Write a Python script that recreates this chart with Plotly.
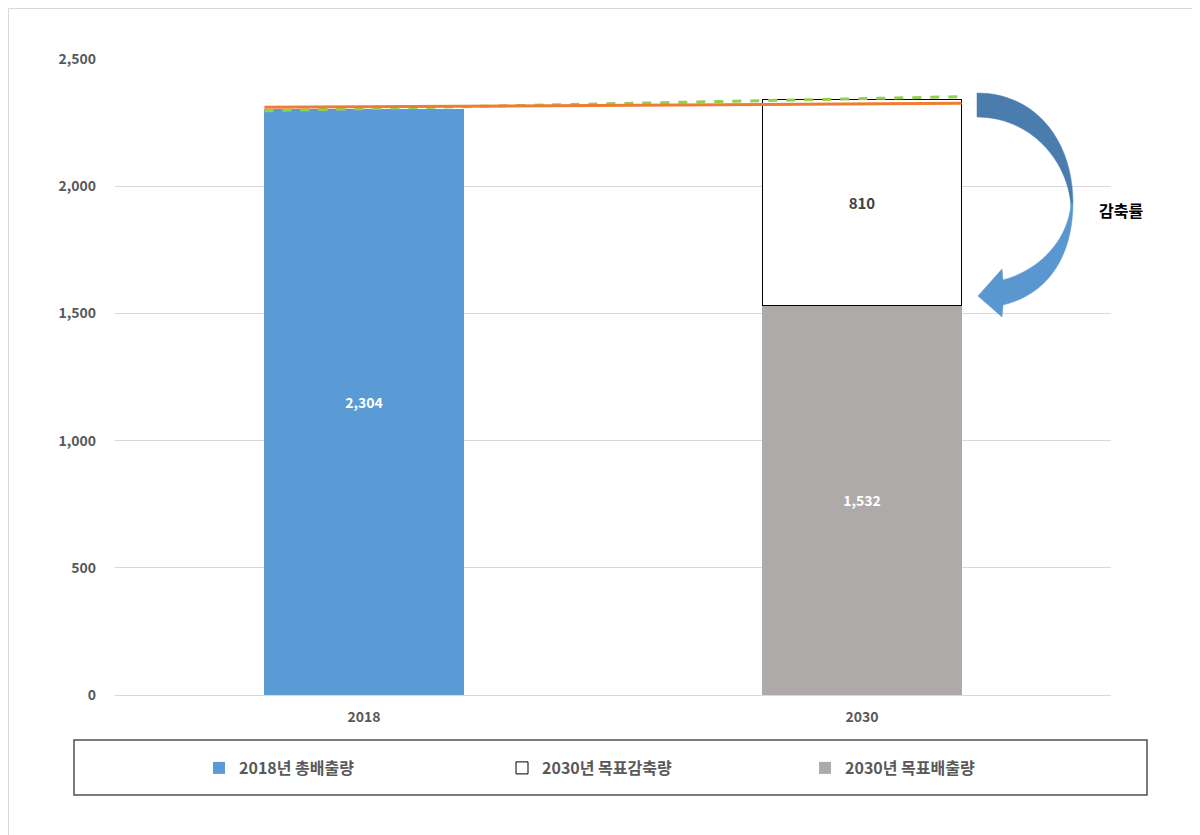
import plotly.graph_objects as go

# ---- data ----
categories = ["2018", "2030"]
cat_pos = [0, 1]
total_2018 = [2304]
target_emission_2030 = [1532]
target_reduction_2030 = [810]
trend_x = [-0.2, 1.2]
orange_line = [2310, 2326]
green_line = [2297, 2352]
y_ticks = [0, 500, 1000, 1500, 2000, 2500]
y_ticktext = ["0", "500", "1,000", "1,500", "2,000", "2,500"]

FONT = "Noto Sans CJK KR"
W, H = 1200, 835
OFF = 8  # page body margin
# plot area in page pixels: x 115..1111, y 59..695
PL, PR, PT, PB = 115, 1111, 59, 695
ML = PL - OFF
MT = PT - OFF
PW = PR - PL
PH = PB - PT
MR = W - ML - PW
MB = H - MT - PH

def px2d(px, py):
    xd = (px - PL) / PW * 2.0 - 0.5
    yd = (PB - py) / PH * 2500
    return xd, yd

def path(cmds):
    out = []
    for c in cmds:
        s = c[0]
        for (px, py) in c[1:]:
            x, y = px2d(px, py)
            s += f" {x:.5f},{y:.3f}"
        out.append(s)
    return " ".join(out) + " Z"

def ppx(px):
    return (px - PL) / PW

def ppy(py):
    return (PB - py) / PH

fig = go.Figure()

fig.add_trace(go.Bar(
    x=[cat_pos[0]], y=total_2018, name="2018년 총배출량",
    marker=dict(color="#5B9BD5", line=dict(width=0)),
    width=0.4, text=[f"{v:,}" for v in total_2018],
    textposition="inside", insidetextanchor="middle",
    textfont=dict(color="white", size=14, family=FONT, weight="bold"),
    legendrank=1,
))
fig.add_trace(go.Bar(
    x=[cat_pos[1]], y=target_emission_2030, name="2030년 목표배출량",
    marker=dict(color="#AEAAAA", line=dict(width=0)),
    width=0.4, text=[f"{v:,}" for v in target_emission_2030],
    textposition="inside", insidetextanchor="middle",
    textfont=dict(color="white", size=14, family=FONT, weight="bold"),
    legendrank=3,
))
fig.add_trace(go.Bar(
    x=[cat_pos[1]], y=target_reduction_2030, name="2030년 목표감축량",
    marker=dict(color="white", line=dict(width=1, color="black")),
    width=0.4, text=[f"{v:,}" for v in target_reduction_2030],
    textposition="inside", insidetextanchor="middle",
    textfont=dict(color="#404040", size=15, family=FONT, weight="bold"),
    legendrank=2,
))
fig.add_trace(go.Scatter(
    x=trend_x, y=green_line, mode="lines", showlegend=False,
    line=dict(color="#92D050", width=3, dash="dash"), hoverinfo="skip",
))
fig.add_trace(go.Scatter(
    x=trend_x, y=orange_line, mode="lines", showlegend=False,
    line=dict(color="#ED7D31", width=3), hoverinfo="skip",
))

# curved arrow (decoration), split in two tones
arrow_top = path([
    ("M", (977, 93)),
    ("C", (1035, 93), (1073, 140), (1073, 203)),
    ("L", (1071, 206)),
    ("C", (1068, 160), (1030, 117), (977, 117)),
])
arrow_bottom = path([
    ("M", (1073, 202)),
    ("C", (1073, 260), (1045, 295), (1003, 305)),
    ("L", (1002, 317)),
    ("L", (978, 296)),
    ("L", (1002, 269)),
    ("L", (1003, 280)),
    ("C", (1040, 270), (1068, 240), (1071, 204)),
])

shapes = [
    dict(type="path", xref="x", yref="y", path=arrow_top,
         fillcolor="#4A7DAE", line=dict(color="#4A7DAE", width=0.5), layer="above"),
    dict(type="path", xref="x", yref="y", path=arrow_bottom,
         fillcolor="#5A97D0", line=dict(color="#5A97D0", width=0.5), layer="above"),
    # legend box
    dict(type="rect", xref="paper", yref="paper",
         x0=ppx(74), x1=ppx(1147), y0=ppy(795), y1=ppy(740),
         line=dict(color="#505050", width=1.5), fillcolor="rgba(0,0,0,0)"),
    # outer chart border (left and top)
    dict(type="line", xref="paper", yref="paper",
         x0=ppx(8.5), x1=ppx(8.5), y0=ppy(850), y1=ppy(8.5),
         line=dict(color="#D9D9D9", width=1)),
    dict(type="line", xref="paper", yref="paper",
         x0=ppx(8.5), x1=ppx(1215), y0=ppy(8.5), y1=ppy(8.5),
         line=dict(color="#D9D9D9", width=1)),
]

fig.update_layout(
    width=W, height=H,
    margin=dict(l=ML, r=MR, t=MT, b=MB),
    paper_bgcolor="white", plot_bgcolor="white",
    barmode="stack",
    font=dict(family=FONT, color="#595959"),
    shapes=shapes,
    showlegend=True,
    legend=dict(
        orientation="h", x=ppx(199), xanchor="left", y=ppy(768), yanchor="middle",
        entrywidth=258, entrywidthmode="pixels", traceorder="normal",
        font=dict(family=FONT, size=16, color="#595959", weight="bold"),
        bgcolor="rgba(0,0,0,0)", borderwidth=0, itemwidth=30,
    ),
    annotations=[
        dict(text="감축률", xref="paper", yref="paper", x=ppx(1121), y=ppy(210),
             xanchor="center", yanchor="middle", showarrow=False,
             font=dict(family=FONT, size=16, color="black", weight="bold")),
    ],
    xaxis=dict(
        range=[-0.5, 1.5], tickvals=cat_pos, ticktext=categories,
        showgrid=False, zeroline=False, showline=False, ticks="",
        ticklabelstandoff=12,
        tickfont=dict(family=FONT, size=14, color="#595959", weight="bold"),
        fixedrange=True,
    ),
    yaxis=dict(
        range=[0, 2500], tickvals=y_ticks, ticktext=y_ticktext,
        showgrid=True, gridcolor="#D9D9D9", gridwidth=1,
        zeroline=True, zerolinecolor="#D9D9D9", zerolinewidth=1,
        showline=False, ticks="", ticklabelstandoff=18,
        tickfont=dict(family=FONT, size=14, color="#595959", weight="bold"),
        fixedrange=True,
    ),
)

fig.write_html("out.html")
